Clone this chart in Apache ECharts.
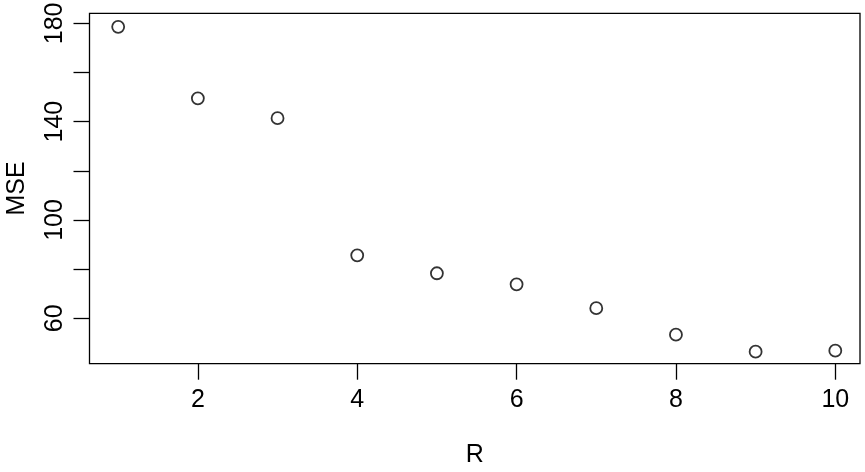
<!DOCTYPE html>
<html>
<head>
<meta charset="utf-8">
<script src="https://cdn.jsdelivr.net/npm/echarts@6/dist/echarts.min.js"></script>
<style>
  html, body { margin: 0; padding: 0; background: #fff; }
  #chart { width: 865px; height: 472px; }
</style>
</head>
<body>
<div id="chart"></div>
<script>
// data
var rValues = [1, 2, 3, 4, 5, 6, 7, 8, 9, 10];
var mseValues = [178.6, 149.5, 141.4, 85.6, 78.3, 73.8, 64.1, 53.3, 46.4, 46.8];
var xTicks = [2, 4, 6, 8, 10];
var yTicks = [60, 80, 100, 120, 140, 160, 180];
var yLabels = [60, 100, 140, 180];

var points = rValues.map(function (r, i) { return [r, mseValues[i]]; });

var font = 'Liberation Sans, Arial, Helvetica, sans-serif';

var chart = echarts.init(document.getElementById('chart'));
chart.setOption({
    animation: false,
    grid: {
        left: 89.5,
        right: 5,
        top: 13.3,
        bottom: 108.3,
        show: true,
        borderColor: '#000',
        borderWidth: 1.3,
        backgroundColor: 'transparent',
        outerBoundsMode: 'none'
    },
    xAxis: {
        type: 'value',
        min: 0.64,
        max: 10.31,
        name: 'R',
        nameLocation: 'middle',
        nameGap: 79,
        nameTextStyle: { fontFamily: font, fontSize: 25, color: '#000' },
        axisLine: { show: false },
        splitLine: { show: false },
        axisTick: {
            show: true,
            inside: false,
            length: 16,
            customValues: xTicks,
            lineStyle: { color: '#000', width: 1.3 }
        },
        axisLabel: {
            customValues: xTicks,
            margin: 24,
            fontFamily: font,
            fontSize: 25,
            color: '#000'
        }
    },
    yAxis: {
        type: 'value',
        min: 41.5,
        max: 184.1,
        name: 'MSE',
        nameLocation: 'middle',
        nameGap: 60,
        nameRotate: 90,
        nameTextStyle: { fontFamily: font, fontSize: 25, color: '#000' },
        axisLine: { show: false },
        splitLine: { show: false },
        axisTick: {
            show: true,
            inside: false,
            length: 16,
            customValues: yTicks,
            lineStyle: { color: '#000', width: 1.3 }
        },
        axisLabel: {
            customValues: yLabels,
            rotate: 90,
            margin: 22,
            fontFamily: font,
            fontSize: 25,
            color: '#000'
        }
    },
    series: [{
        type: 'scatter',
        data: points,
        symbol: 'circle',
        symbolSize: 12,
        itemStyle: {
            color: 'transparent',
            borderColor: '#000',
            borderWidth: 1.8
        }
    }]
});
</script>
</body>
</html>
